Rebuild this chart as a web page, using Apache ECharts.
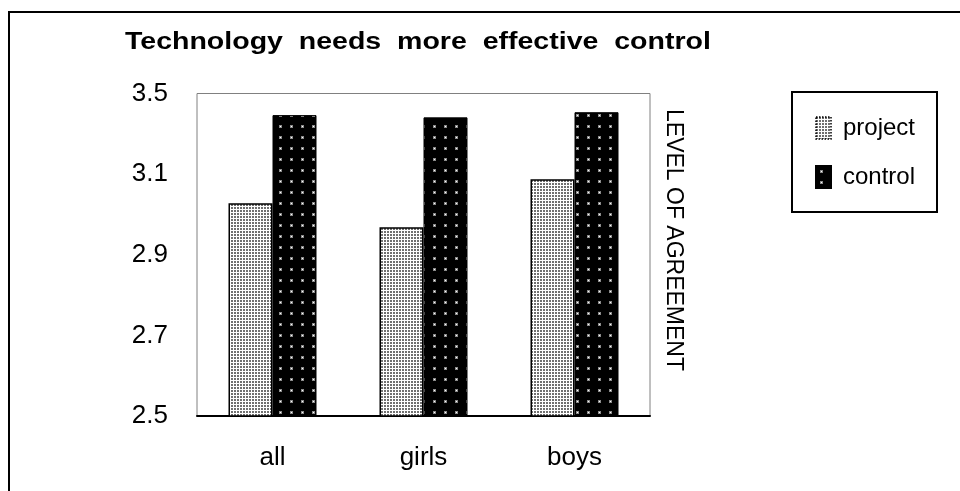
<!DOCTYPE html>
<html>
<head>
<meta charset="utf-8">
<style>
  html, body { margin: 0; padding: 0; background: #fff; }
  #chart { width: 960px; height: 491px; }
</style>
<script src="https://cdn.jsdelivr.net/npm/echarts@6/dist/echarts.min.js"></script>
</head>
<body>
<div id="chart"></div>
<script>
// Mean level of agreement per group
const categories = ['all', 'girls', 'boys'];
const projectValues = [3.16, 3.085, 3.234];
const controlValues = [3.433, 3.426, 3.442];
const seriesNames = ['project', 'control'];
const yTickLabels = ['2.5', '2.7', '2.9', '3.1', '3.5'];
const titleText = 'Technology  needs  more  effective  control';
const axisTitle = 'LEVEL OF AGREEMENT';

const FONT = '"Liberation Sans", Arial, Helvetica, sans-serif';

// Fine grey stipple for the project bars
function makeLightPattern() {
  const c = document.createElement('canvas');
  c.width = 3; c.height = 3;
  const g = c.getContext('2d');
  g.fillStyle = '#ffffff';
  g.fillRect(0, 0, 3, 3);
  g.fillStyle = '#707070';
  g.fillRect(0, 0, 2, 2);
  return c;
}

// Black fill with sparse white dots for the control bars
function makeDarkPattern() {
  const c = document.createElement('canvas');
  c.width = 11; c.height = 11;
  const g = c.getContext('2d');
  g.fillStyle = '#000000';
  g.fillRect(0, 0, 11, 11);
  g.fillStyle = '#8a8a8a';
  g.fillRect(4, 4, 3, 3);
  g.fillStyle = '#ffffff';
  g.fillRect(5, 5, 1, 1);
  return c;
}

const lightFill = { image: makeLightPattern(), repeat: 'repeat' };
const darkFill = { image: makeDarkPattern(), repeat: 'repeat' };

const chart = echarts.init(document.getElementById('chart'), null, { renderer: 'canvas' });

const option = {
  animation: false,
  backgroundColor: '#ffffff',
  grid: {
    left: 197, right: 310, top: 93.5, bottom: 75,
    show: true, borderColor: '#808080', borderWidth: 1, backgroundColor: 'transparent'
  },
  legend: {
    orient: 'vertical',
    left: 815, top: 116,
    icon: 'rect',
    itemWidth: 15, itemHeight: 22, itemGap: 25,
    padding: 0,
    textStyle: { fontFamily: FONT, fontSize: 24, color: '#000', padding: [0, 0, 0, 7] },
    data: [
      { name: seriesNames[0], itemStyle: { borderType: 'dotted', borderWidth: 1.5, borderColor: '#000' } },
      { name: seriesNames[1] }
    ]
  },
  xAxis: {
    type: 'category',
    data: categories,
    axisLine: { show: true, lineStyle: { color: '#000', width: 2 } },
    axisTick: { show: false },
    axisLabel: { fontFamily: FONT, fontSize: 26, color: '#000', margin: 29 },
    splitLine: { show: false }
  },
  yAxis: {
    type: 'value',
    min: 2.5, max: 3.5, interval: 0.25,
    axisLine: { show: false },
    axisTick: { show: false },
    splitLine: { show: false },
    axisLabel: {
      fontFamily: FONT, fontSize: 26, color: '#000', margin: 29,
      formatter: function (v, i) { return yTickLabels[i]; }
    }
  },
  series: [
    {
      name: seriesNames[0],
      type: 'bar',
      data: projectValues,
      barWidth: 44,
      barGap: '0%',
      itemStyle: { color: lightFill, borderColor: '#000', borderWidth: 1.5 }
    },
    {
      name: seriesNames[1],
      type: 'bar',
      data: controlValues,
      barWidth: 44,
      itemStyle: { color: darkFill, borderColor: '#000', borderWidth: 1 }
    }
  ],
  graphic: [
    {
      type: 'rect',
      shape: { x: 9, y: 12, width: 1000, height: 1000 },
      style: { fill: 'none', stroke: '#000', lineWidth: 2 },
      silent: true
    },
    {
      type: 'rect',
      shape: { x: 792, y: 92, width: 145, height: 120 },
      style: { fill: 'none', stroke: '#000', lineWidth: 2 },
      silent: true
    },
    {
      type: 'text',
      x: 125, y: 43,
      scaleX: 1.24,
      style: {
        text: titleText,
        font: 'bold 23px ' + FONT,
        fill: '#000',
        textVerticalAlign: 'middle',
        verticalAlign: 'middle'
      },
      silent: true
    },
    {
      type: 'text',
      x: 673, y: 240,
      rotation: -Math.PI / 2,
      style: {
        text: axisTitle,
        font: '23px ' + FONT,
        fill: '#000',
        align: 'center',
        verticalAlign: 'middle',
        textAlign: 'center',
        textVerticalAlign: 'middle'
      },
      silent: true
    }
  ]
};

chart.setOption(option);
</script>
</body>
</html>
